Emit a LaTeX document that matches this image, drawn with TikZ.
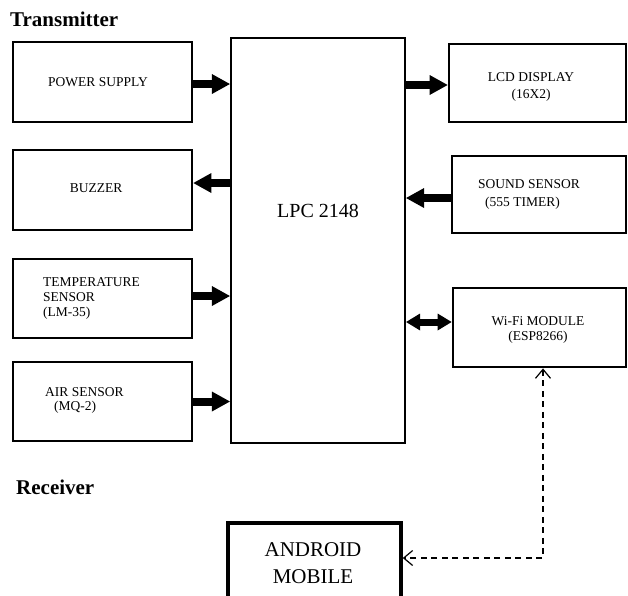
\documentclass[tikz,border=0pt]{standalone}
\usepackage{fontspec}
\setmainfont{Liberation Serif}
\usetikzlibrary{arrows.meta}
\begin{document}
\begin{tikzpicture}[x=1pt,y=-1pt,
  box/.style={draw, line width=2.8pt, inner sep=0pt, minimum width=179pt, minimum height=80pt},
  lbl/.style={inner sep=0pt, font=\fontsize{13.5}{15}\selectfont, text=black},
  head/.style={inner sep=0pt, anchor=west, font=\fontsize{21}{24}\selectfont\bfseries},
  bigarrow/.style={line width=8pt, -{Triangle[length=18pt,width=20pt,line width=0pt]}},
  bigdouble/.style={line width=7pt, {Triangle[length=14pt,width=17pt,line width=0pt]}-{Triangle[length=14pt,width=17pt,line width=0pt]}},
  link/.style={line width=1.2pt, dash pattern=on 6pt off 4.5pt,
    {Straight Barb[length=9pt,width=15pt,line width=1.2pt]}-{Straight Barb[length=9pt,width=15pt,line width=1.2pt]}}]
\useasboundingbox (0,0) rectangle (628,595);
\begin{scope}
\clip (0,0) rectangle (628,595);
% headings
\node[head] (tx) at (10,19.5) {Transmitter};
\node[head] (rx) at (16,487) {Receiver};
% left boxes
\node[box] (ps) at (102.5,82) {};
\node[box] (bz) at (102.5,190) {};
\node[box, minimum height=79pt] (tmp) at (102.5,298.5) {};
\node[box, minimum height=79pt] (air) at (102.5,401.5) {};
% controller
\node[draw, line width=2.2pt, inner sep=0pt, minimum width=174pt, minimum height=405pt] (lpc) at (318,240.5) {};
% right boxes
\node[box, minimum width=177pt, minimum height=78pt] (lcd) at (537.5,83) {};
\node[box, minimum width=174pt, minimum height=77pt] (snd) at (539,194.5) {};
\node[box, minimum width=173pt, minimum height=79pt] (wifi) at (539.5,327.5) {};
% receiver box
\node[draw, line width=3.5pt, inner sep=0pt, minimum width=173pt, minimum height=87pt] (and) at (314.5,566.5) {};
% labels
\node[lbl] (psl) at (98,82) {POWER SUPPLY};
\node[lbl] (bzl) at (96,188) {BUZZER};
\node[lbl, anchor=west, align=left] (tmpl) at (43,298) {TEMPERATURE\\SENSOR\\(LM-35)};
\node[lbl, anchor=west, align=left, font=\fontsize{13.5}{13.5}\selectfont] (airl) at (45,400.5) {AIR SENSOR\\\hspace*{9pt}(MQ-2)};
\node[lbl, align=center, font=\fontsize{13.5}{17}\selectfont] (lcdl) at (531,86.5) {LCD DISPLAY\\(16X2)};
\node[lbl, anchor=west, align=left, font=\fontsize{13.5}{18}\selectfont] (sndl) at (478,194) {SOUND SENSOR\\\hspace*{7pt}(555 TIMER)};
\node[lbl, align=center] (wifil) at (538,329.5) {Wi-Fi MODULE\\(ESP8266)};
\node[inner sep=0pt, font=\fontsize{20}{24}\selectfont] (lpcl) at (318,211) {LPC 2148};
\node[inner sep=0pt, align=center, font=\fontsize{21}{27}\selectfont] (andl) at (313,563.5) {ANDROID\\MOBILE};
% connectors
\draw[bigarrow] ([yshift=-2pt]ps.east) -- ([yshift=-2pt]ps.east -| lpc.west);
\draw[bigarrow] ([yshift=7pt]bz.east -| lpc.west) -- ([yshift=7pt]bz.east);
\draw[bigarrow] ([yshift=2.5pt]tmp.east) -- ([yshift=2.5pt]tmp.east -| lpc.west);
\draw[bigarrow] (air.east) -- (air.east -| lpc.west);
\draw[bigarrow] ([yshift=-2pt]lcd.west -| lpc.east) -- ([yshift=-2pt]lcd.west);
\draw[bigarrow] ([yshift=-3.5pt]snd.west) -- ([yshift=-3.5pt]snd.west -| lpc.east);
\draw[bigdouble] ([yshift=5.5pt]wifi.west -| lpc.east) -- ([yshift=5.5pt]wifi.west);
\draw[link] ([xshift=3.5pt]wifi.south) |- ([yshift=8.5pt]and.east);
\end{scope}
\end{tikzpicture}
\end{document}
